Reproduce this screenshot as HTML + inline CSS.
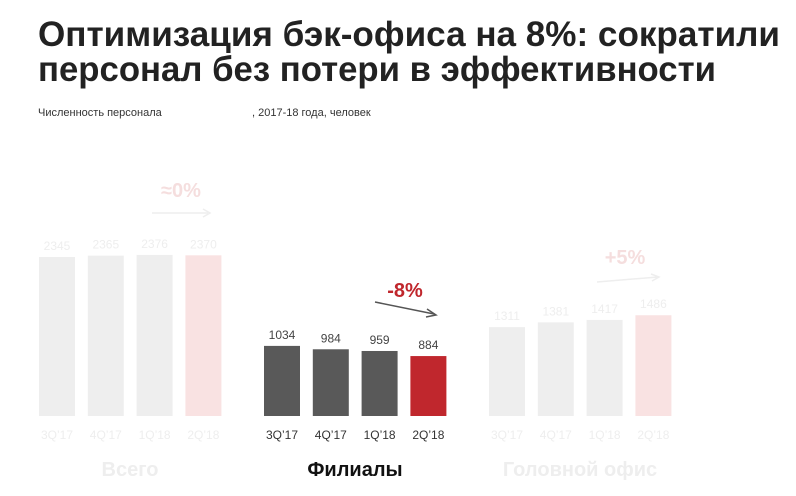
<!DOCTYPE html>
<html><head><meta charset="utf-8"><style>
html,body{margin:0;padding:0;background:#fff;}
svg{display:block;font-family:"Liberation Sans","DejaVu Sans",sans-serif;}
</style></head><body>
<svg id="chart" width="796" height="496" viewBox="0 0 796 496">
<text x="38" y="46" font-size="35" font-weight="bold" fill="#222" textLength="742" lengthAdjust="spacingAndGlyphs">Оптимизация бэк-офиса на 8%: сократили</text>
<text x="38" y="81" font-size="35" font-weight="bold" fill="#222" textLength="678" lengthAdjust="spacingAndGlyphs">персонал без потери в эффективности</text>
<text x="38" y="116" font-size="11" fill="#333">Численность персонала</text>
<text x="252" y="116" font-size="11" fill="#333">, 2017-18 года, человек</text>
<g id="bars"></g>
<text x="181" y="197" font-size="20" font-weight="bold" fill="#f5dede" text-anchor="middle">≈0%</text>
<line x1="152" y1="213" x2="208" y2="213" stroke="#eee" stroke-width="1.5"/>
<path d="M203,209 L210,213 L203,217" fill="none" stroke="#eee" stroke-width="1.5"/>
<text x="405" y="297" font-size="20" font-weight="bold" fill="#c0272d" text-anchor="middle">-8%</text>
<line x1="375" y1="302" x2="434" y2="314" stroke="#555" stroke-width="1.5"/>
<path d="M427,309 L436,315 L426,317" fill="none" stroke="#555" stroke-width="1.5"/>
<text x="625" y="264" font-size="20" font-weight="bold" fill="#f5dede" text-anchor="middle">+5%</text>
<line x1="597" y1="282" x2="658" y2="277" stroke="#eee" stroke-width="1.5"/>
<path d="M651,274 L659,277 L652,281" fill="none" stroke="#eee" stroke-width="1.5"/>
<text x="130" y="476" font-size="20" font-weight="bold" fill="#eee" text-anchor="middle">Всего</text>
<text x="355" y="476" font-size="20" font-weight="bold" fill="#111" text-anchor="middle">Филиалы</text>
<text x="580" y="476" font-size="20" font-weight="bold" fill="#eee" text-anchor="middle">Головной офис</text>
</svg>
<script>
const categories = ["3Q’17","4Q’17","1Q’18","2Q’18"];
const totalValues = [2345,2365,2376,2370];
const branchValues = [1034,984,959,884];
const headOfficeValues = [1311,1381,1417,1486];
const NS="http://www.w3.org/2000/svg";
const baseY=416, scale=0.0678, barW=36, step=48.8;
function yOf(v){return baseY - v*scale;}
const groups=[
 {vals:totalValues,x0:39,fill:"#eeeeee",last:"#f9e2e2",lbl:"#eeeeee",cat:"#eeeeee",name:"total"},
 {vals:branchValues,x0:264,fill:"#595959",last:"#c0272d",lbl:"#444",cat:"#333",name:"branches"},
 {vals:headOfficeValues,x0:489,fill:"#eeeeee",last:"#f9e2e2",lbl:"#eeeeee",cat:"#eeeeee",name:"head-office"}
];
const g=document.getElementById('bars');
groups.forEach(gr=>{
 gr.vals.forEach((v,i)=>{
  const x=gr.x0+i*step;
  const r=document.createElementNS(NS,'rect');
  r.setAttribute('x',x);r.setAttribute('y',yOf(v));
  r.setAttribute('width',barW);r.setAttribute('height',baseY-yOf(v));
  r.setAttribute('fill',i===gr.vals.length-1?gr.last:gr.fill);
  
  
  g.appendChild(r);
  const t=document.createElementNS(NS,'text');
  t.setAttribute('x',x+barW/2);t.setAttribute('y',yOf(v)-7);
  t.setAttribute('text-anchor','middle');t.setAttribute('font-size','12');
  t.setAttribute('fill',gr.lbl);t.textContent=v;
  
  
  g.appendChild(t);
  const c=document.createElementNS(NS,'text');
  c.setAttribute('x',x+barW/2);c.setAttribute('y',439);
  c.setAttribute('text-anchor','middle');c.setAttribute('font-size','12');
  c.setAttribute('fill',gr.cat);c.textContent=categories[i];
  
  
  g.appendChild(c);
 });
});
</script>
</body></html>
